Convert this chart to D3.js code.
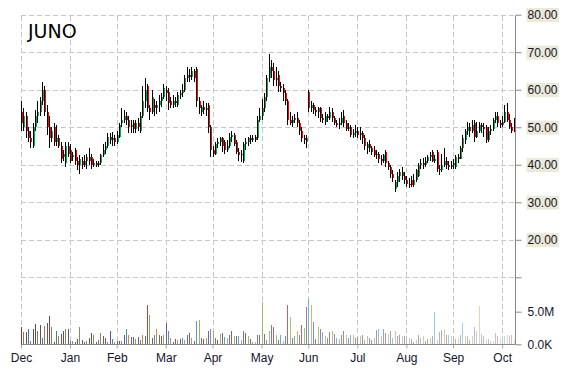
<!DOCTYPE html>
<html>
<head>
<meta charset="utf-8">
<script src="https://cdn.jsdelivr.net/npm/d3@7"></script>
<style>
  body { margin: 0; background: #fff; }
  svg { display: block; font-family: "DejaVu Sans", Verdana, sans-serif; }
</style>
</head>
<body>
<svg width="570" height="370"></svg>
<script>
const title = "JUNO";
const months = ["Dec", "Jan", "Feb", "Mar", "Apr", "May", "Jun", "Jul", "Aug", "Sep", "Oct"];
const monthDays = [21, 20, 21, 20, 21, 20, 21, 21, 20, 21, 6];
const priceTicks = [80, 70, 60, 50, 40, 30, 20, 10];
const volumeTicks = [0, 5];

// daily prices, one row per month
const open = [
  54,50,53,49,47,45,50,53,54,57,60,54,50,47,50,46,47,45,42,40.5,45,
  44,42,44,41,40,41,40,41,42,42,40,40.5,40,40.5,42.5,44,45,47.5,46.5,47,
  46,47.5,51,52,53,52,50,51,49.5,51,49,53,57,61,55,54,56,55,56,57,58,
  60,59.5,57,56,57,56,58.5,59,60,63,64,63.5,65,65.5,57,54,55.5,54.5,56,50,
  44,43,45.5,46,47,46,44,45,47.5,48,46,43.5,42.5,41,45.5,46,47,46.5,47.5,47,52,
  53,55,58,63,66,65,62.5,64,61,60.5,59,57,52,51,52,52.5,51,49,47,46,
  59.5,55,56,54.5,54,55,52.5,51.5,53,52.5,54,52.5,51,50.5,51,53,51,49.5,50,48,48.5,
  49,48,48.5,47,44.5,45.5,44.5,44,42.5,43,41.5,41,43.5,40.5,39.5,37.5,33.5,35.5,37,38,37,
  36,35,36,34.5,36,37,40,40.5,40,41,42,43.5,41,43.5,39,38.5,40,41,40,39.5,
  40,39.5,42,41.5,44.5,46.5,49,50,49,51,47.5,49,50.5,50,50,46.5,49,49.5,52,53,51,
  50.5,51.5,54,52,50,49
];
const high = [
  57,55,54,50,49,51,54.5,57,58,62,61,56,53,50,51,50.5,48,46,44,46,46,
  45.5,43.5,44.5,42,42.5,42,42.5,43,44.5,43,41.5,41,41,43,45.5,46,48.5,48.5,48.7,48,
  49,51,55,54.5,54,53,52,52,52,52.5,54,61,63,61.5,56,60,57.5,57,58.5,59,61.5,
  61,60.5,58,58.5,58,59.5,60,61.5,64,66,65.5,66,65.5,66,58,56,57,56.5,56.5,50.5,
  45,46,47,47.5,47.5,46.5,46.5,48.5,49,48.5,46.5,44.5,44,46,47,47.5,48,48,48,53,55,
  57.5,59,64,69.5,68,67,66,65,62,61.5,60,57.5,54,53,53.5,54,52,50,48,48,
  60,57,56.5,55.5,55.5,55.5,53.5,54,53.5,55.5,55,53,52,52.5,54,54.5,52,51,50.5,49.5,50.5,
  50,50,49,48,46,46.5,45,45,44,43.5,42.5,43,44,41,40,38.5,36,38,39,39.5,38,
  37,36.5,37,37.5,39,40.5,41.5,41.7,42,42.5,43.5,44,42.5,44,40,43,44.5,42,41,41,
  41.5,42.5,43,45,48,49.5,51.4,51,52,52,51.5,51.5,51,51,50.5,50,50.5,52.5,54,54,52,
  53,56,56.5,53.5,51,52.5
];
const low = [
  49,49,47,46,44.5,44.5,49,51,53,56,53,48,44.5,46,45,45,44.5,40.5,41,39.5,42,
  40.5,41,40,38.5,37.5,39,39.5,39,40,39,39.5,39.5,39.5,40,42,43,44.5,45.5,45,45,
  45.5,47,50,51,50.5,48.5,48.5,48.5,48.5,49,48.5,52.5,55,54,52,53.5,53,53.5,54,55.5,57.5,
  57,54.5,55,55,55.5,55.5,57.5,58,59.5,62,62,62.5,62,55.5,53.5,53,53.5,53,48.5,42,
  42,42.5,44.5,45,43.5,43,43.5,44.5,46,45,43,41,40.7,40.5,44,45,45.5,46,46,46.5,51.5,
  52,54,57,62,63,61,61,59.5,59.5,57,56,50.5,50.5,50,51,50,48,46,45.5,44.5,
  54,54,53.5,53,52.5,51.5,51,50.5,51.5,52,51.5,50.5,50,49.5,50.5,50,49,49,47.5,47,47.5,
  47,46.5,45.5,44,43,43.5,42.5,42,41.5,40.5,40,40.5,39.5,38.5,36.5,35.5,32.8,34,35.5,36,35,
  34,33.8,34,34,35.5,36.7,39,39,39.5,40.5,41,40.7,40.5,38,37.3,38,39.5,39,38.6,39,
  39,39,40.5,41.5,43.5,45.5,48,47.5,48.5,46,47,48.5,48.5,47.5,45.8,46,48,49,51,50,49.8,
  50,51,51.5,49.5,48.5,48.7
];
const close = [
  51,53,49,47,46,50,53,54,57,60,54,50,47,49,46,47,45,41.5,43,45,43,
  41,42.5,41,40,41.5,40,41,42,41,40,40.5,40,40.5,42.5,44,45,47.5,46.5,47,46,
  48,50.5,52,53,52,50,50.5,49.5,51,50,53,57,60,55,54,58,55,56,57,58,60.5,
  59,56.5,56,57,56.5,58.5,59,60,63,64,63.5,65,63,57,55,55.5,54.5,55,50,44,
  43,45.5,46,47,45,44,45,47.5,48,45.5,43.5,42.5,43,45.5,46,47,46.5,47,46.5,52,53,
  55,58,63,66,65,62.5,63,61,60.5,59,57,52,51,52,52.5,51,49,47,46.5,47,
  55,56,54.5,54,55,52.5,52,53,52.5,54,52.5,51,50.5,51,52.5,51,49.5,50,48,48.5,49,
  48,48.5,47,45,45.5,44.5,43.5,42.5,43,41.5,41,42.5,40.5,39.5,37.5,36.5,35.5,37,38,37,36,
  35,34.5,34.5,36,38.5,40,40.5,40,41,42,42.5,41,41.5,39,38.5,40,41,40,39.5,40,
  40.5,42,41.5,44.5,47,49,50,49,50.5,47.5,49,50.5,50,49.5,46.5,49,49.5,52,53,51,50.5,
  51.5,54,52,50,49,51.5
];
// daily volume, millions of shares
const volume = [
  2.7,1.9,1.9,2.3,0.5,2.3,3.1,2.0,2.9,1.0,2.8,3.2,4.3,2.7,0.4,2.1,1.3,1.6,2.1,2.4,2.3,
  0.5,0.5,0.3,0.8,2.7,0.6,0.3,0.5,0.9,1.8,1.4,0.3,0.6,1.7,1.3,0.9,0.3,2.0,0.8,0.4,
  0.5,0.5,0.5,1.4,2.3,1.4,1.1,1.1,0.8,1.1,0.7,1.4,1.3,6.1,4.5,1.0,1.5,2.3,1.5,1.3,1.5,
  3.2,2.0,1.0,0.3,0.8,0.6,0.8,0.9,0.6,1.5,1.8,0.9,0.5,3.5,3.7,0.9,0.8,0.9,2.1,2.3,
  2.1,1.0,0.6,1.6,1.7,1.1,0.9,1.4,2.0,1.3,1.2,1.2,0.6,2.1,1.7,1.2,0.8,0.4,0.4,1.4,1.4,
  6.5,1.6,0.6,2.0,3.0,2.7,1.5,0.6,1.5,0.5,1.2,6.1,4.2,1.0,1.2,2.1,1.5,2.9,2.5,5.7,
  7.0,6.1,3.4,0.8,2.6,2.3,1.9,1.3,1.0,1.9,2.1,1.6,1.0,0.8,1.5,2.1,1.5,0.9,1.5,1.4,1.0,
  1.1,1.2,1.5,0.7,1.2,1.0,0.6,1.0,2.2,2.3,1.2,2.4,1.8,1.6,2.1,1.0,2.0,1.2,1.5,1.3,1.3,
  1.0,1.0,0.8,0.4,0.6,1.5,1.0,1.3,0.5,0.8,0.9,1.2,5.0,0.6,1.9,2.2,2.3,1.5,1.5,1.2,
  1.1,0.8,0.9,1.5,3.3,1.2,1.2,0.7,1.2,2.7,2.0,5.9,1.6,1.3,0.8,0.8,0.5,0.5,1.8,1.2,0.9,
  0.8,1.2,1.4,1.3,1.4,0.6
];

const palette = ["#c0504d", "#9bbb59", "#8064a2", "#4bacc6", "#f79646", "#4f81bd"];

const svg = d3.select("svg");
const n = close.length;
const data = d3.range(n).map(i => ({
  i: i, o: open[i], h: high[i], l: low[i], c: close[i], v: volume[i]
}));

const plotLeft = 21, plotRight = 515, plotTop = 14.7, plotBottom = 344.3;

const x = d3.scaleLinear().domain([0, n - 1]).range([plotLeft, 513.8]);
const yPrice = d3.scaleLinear().domain([10, 80]).range([277.3, 14.7]);
const yVol = d3.scaleLinear().domain([0, 5]).range([344.3, 311.7]);

const monthStarts = [];
let acc = 0;
monthDays.forEach(d => { monthStarts.push(acc); acc += d; });

const px = v => Math.round(v) + 0.5;

// grid
const grid = svg.append("g")
  .attr("stroke", "#c8c8c8")
  .attr("stroke-dasharray", "5,3")
  .attr("shape-rendering", "crispEdges");

grid.selectAll(".hgrid")
  .data(priceTicks)
  .enter().append("line")
  .attr("x1", plotLeft).attr("x2", plotRight)
  .attr("y1", d => px(yPrice(d))).attr("y2", d => px(yPrice(d)));

grid.selectAll(".vgrid")
  .data(monthStarts)
  .enter().append("line")
  .attr("x1", d => px(x(d))).attr("x2", d => px(x(d)))
  .attr("y1", px(plotTop)).attr("y2", plotBottom);

// volume bars
function barColor(i) {
  const base = palette[i % palette.length];
  const t = i / (n - 1);
  if (t < 0.45) return d3.interpolateRgb(d3.rgb(base).darker(0.9), base)(t / 0.45);
  return d3.interpolateRgb(base, "#ffffff")((t - 0.45) / 0.55 * 0.6);
}

svg.append("g")
  .attr("shape-rendering", "crispEdges")
  .selectAll("rect")
  .data(data)
  .enter().append("rect")
  .attr("x", d => Math.round(x(d.i)))
  .attr("width", 1)
  .attr("y", d => yVol(d.v))
  .attr("height", d => yVol(0) - yVol(d.v))
  .attr("fill", d => barColor(d.i));

// candles
const candles = svg.append("g")
  .attr("shape-rendering", "crispEdges")
  .selectAll("g")
  .data(data)
  .enter().append("g");

candles.append("rect")
  .attr("x", d => Math.round(x(d.i)))
  .attr("width", 1)
  .attr("y", d => yPrice(d.h))
  .attr("height", d => yPrice(d.l) - yPrice(d.h))
  .attr("fill", "#000");

candles.append("rect")
  .attr("x", d => Math.round(x(d.i)) + 1)
  .attr("width", 1)
  .attr("y", d => yPrice(Math.max(d.o, d.c)))
  .attr("height", d => Math.max(1, Math.abs(yPrice(d.o) - yPrice(d.c))))
  .attr("fill", d => d.c >= d.o ? "#00b050" : "#ff0000");

// right axis
const priceAxis = svg.append("g")
  .attr("transform", "translate(" + px(plotRight) + ",0)")
  .call(d3.axisRight(yPrice)
    .tickValues(priceTicks)
    .tickSize(6)
    .tickPadding(6)
    .tickFormat(d => d === 10 ? "" : d.toFixed(2)));
priceAxis.select(".domain").remove();
priceAxis.selectAll(".tick line").attr("stroke", "#888");
priceAxis.selectAll(".tick text")
  .attr("fill", "#14142b")
  .style("font-size", "12px");
priceAxis.selectAll(".tick").each(function(d) {
  if (d === 10) return;
  const t = d3.select(this).select("text");
  const b = t.node().getBBox();
  d3.select(this).insert("rect", "text")
    .attr("x", b.x - 1).attr("y", b.y)
    .attr("width", b.width + 2).attr("height", b.height)
    .attr("fill", "#ece9d8");
});

const volAxis = svg.append("g")
  .attr("transform", "translate(" + px(plotRight) + ",0)")
  .call(d3.axisRight(yVol)
    .tickValues(volumeTicks)
    .tickSize(6)
    .tickPadding(6)
    .tickFormat(d => d === 0 ? "0.0K" : d.toFixed(1) + "M"));
volAxis.select(".domain").remove();
volAxis.selectAll(".tick line").attr("stroke", "#888");
volAxis.selectAll(".tick text")
  .attr("fill", "#14142b")
  .style("font-size", "12px");

svg.append("line")
  .attr("x1", px(plotRight)).attr("x2", px(plotRight))
  .attr("y1", px(plotTop)).attr("y2", plotBottom)
  .attr("stroke", "#888");

// bottom axis
const timeAxis = svg.append("g")
  .attr("transform", "translate(0," + px(plotBottom - 0.5) + ")")
  .call(d3.axisBottom(x)
    .tickValues(monthStarts)
    .tickSize(4)
    .tickPadding(5)
    .tickFormat((d, i) => months[i]));
timeAxis.select(".domain").remove();
timeAxis.selectAll(".tick line").attr("stroke", "#aaa");
timeAxis.selectAll(".tick text")
  .attr("fill", "#14142b")
  .style("font-size", "12px");

svg.append("line")
  .attr("x1", plotLeft).attr("x2", px(plotRight))
  .attr("y1", px(plotBottom - 0.5)).attr("y2", px(plotBottom - 0.5))
  .attr("stroke", "#888");

// title
svg.append("text")
  .attr("x", 28)
  .attr("y", 38)
  .attr("fill", "#000")
  .style("font-size", "19px")
  .text(title);
</script>
</body>
</html>
